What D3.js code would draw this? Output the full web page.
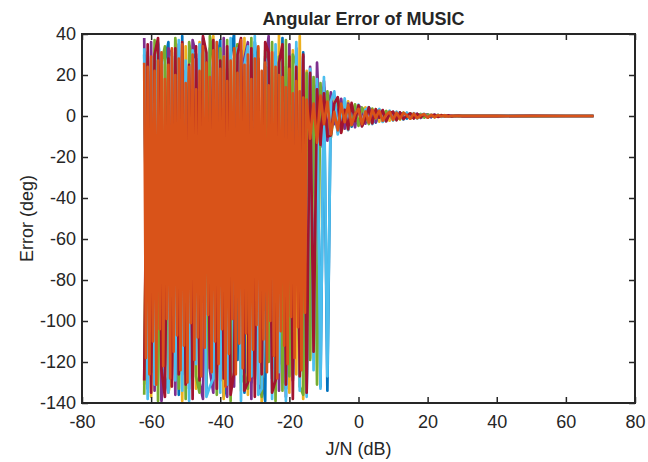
<!DOCTYPE html>
<html>
<head>
<meta charset="utf-8">
<script src="https://cdn.jsdelivr.net/npm/d3@7"></script>
<style>
  body { margin: 0; background: #fff; }
  text { font-family: "Liberation Sans", Arial, Helvetica, sans-serif; fill: #262626; }
</style>
</head>
<body>
<script>
// J/N sample grids (dB)
const jnFine = d3.range(-62, -14.9, 0.5).concat(d3.range(-14, 30.1, 1), [40, 50, 60, 68]);
const jnCoarse = d3.range(-62, 30.1, 1).concat([40, 50, 60, 68]);

const xTicks = [-80, -60, -40, -20, 0, 20, 40, 60, 80];
const yTicks = [-140, -120, -100, -80, -60, -40, -20, 0, 20, 40];

// angular error per trial (deg)
const errBlue = [
  30, -133, 22, -120, 35, -138, 27, 36, -129, 24,
  -136, 39, -125, -60, 31, 28, -118, 38, -134, 33,
  -122, 26, 37, -137, -131, 29, 40, -119, 32, -135,
  25, -130, 36, 15, -124, -139, 34, -128, 30, -121,
  38, -133, 27, -126, -40, -117, 31, -135, 20, -110,
  15, -132, 14, -134,
  10, 3, -8, 6.5, -2, 5.5, -5.2, 1.5, 4.6, -4.2,
  -1, 3.9, 2.5, -3.2, 1.2, 2.7, -2.4, 0.5, 2, -1.7,
  1.5, 0.4, -1.3, 1.1, -0.5, 1, -0.9, 0.2, 0.7, -0.6,
  0.5, -0.2, 0.35, -0.3, 0.1, -0.2, 0.15, -0.1, 0.05,
  0.03, -0.02, 0.01, 0
];
const errYellow = [
  -131, 28, -137, 33, 30, -123, 25, -135, -126, 37,
  21, -139, 34, -128, 29, -133, 36, 10, -120, 26,
  39, -125, 31, -138, 23, -129, -70, 35, -134, 38,
  -136, 27, -127, 33, -140, 29, 37, -124, -132, 40,
  -130, 24, -135, 32, -126, 39, -138, 22, -118, 18,
  -14, 13, -12, 11,
  -6, 9.5, 4, -7.8, -3, 7.2, -1.5, 5.3, -4.5, 2,
  4.2, -3.6, -1, 3.3, -2.8, 0.8, 2.5, -2.3, 1.9, -0.6,
  -1.7, 1.5, 0.3, -1.3, 1.1, -0.3, -0.9, 0.85, -0.4, 0.6,
  -0.5, 0.2, 0.4, -0.3, 0.26, -0.1, -0.16, 0.11, -0.05,
  -0.02, 0.01, -0.01, 0
];
const errPurple = [
  38, -128, 36, -134, 27, -139, -121, 33, 29, -136,
  35, -126, 22, -133, 37, 30, -130, -138, 26, -124,
  -135, 32, -129, 38, -137, 24, -132, 34, -20, 28,
  36, -138, 30, -131, -136, 25, 39, -123, 31, -134,
  27, -137, 35, -129, 33, -125, 29, -131, 24, -113,
  26, -15, 17, -12,
  11.5, -4, 2, 8.4, -6.2, 6.1, 1, -5.5, 4.9, 3.8,
  -3.7, 3.7, 0.5, -3, 2.8, 1.4, -2.1, 2.2, 0.9, -1.5,
  1.7, -0.4, 1.4, -1.1, 0.8, 1, -0.75, 0.3, 0.7, -0.5,
  0.6, 0.1, -0.35, 0.38, -0.2, 0.25, -0.1, 0.12, -0.05,
  0.02, -0.01, 0.01, 0
];
const errGreen = [
  -136, 31, -125, 37, -139, 26, 34, -130, -122, 38,
  -133, 29, -138, 36, 23, -127, -135, 32, -131, 39,
  27, -136, 33, -124, 37, -139, 28, 35, -130, -126,
  -133, 38, -128, 26, -137, 32, -120, 36, -139, 29,
  -134, 37, -127, 30, 25, -132, -136, 21, -119, 19,
  -131, 16, -14, 12,
  -10.5, 2, 8.8, -3.5, 7.4, -6.8, -1, 5.7, -4.8, 4.1,
  0.5, -3.9, 3.6, -1.2, 3.1, -2.6, 2.4, 0.6, -2, 1.9,
  -1.5, 1.6, -0.3, 1.3, -1.1, 0.4, 1, -0.8, 0.65, 0.2,
  -0.5, 0.5, -0.3, 0.35, 0.1, -0.25, 0.2, -0.1, 0.06,
  0.01, -0.02, 0.01, 0
];
const errCyan = [
  33, -138, 28, -131, 36, 24, -127, -135, 31, -129,
  37, -134, 27, -139, 32, -121, 35, 30, -137, -132,
  -128, 36, -135, 29, -131, 38, -126, 33, -139, 25,
  34, -127, 39, -136, -133, 28, 24, -138, 35, -125,
  31, -139, 26, -128, 36, -134, 28, -137, 23, -124,
  18, -133, 19, -127,
  7, 12, -9, -2, 8.6, -6.9, 4.5, -1.8, 5.6, -4.9,
  3, 4.3, -4, 1.5, 3.4, -2.9, -0.7, 2.6, -2.2, 2.1,
  0.8, -1.8, 1.7, -0.6, 1.4, -1.2, 0.5, 1.05, -0.8, 0.6,
  -0.2, 0.55, -0.4, 0.2, 0.3, -0.22, 0.15, -0.12, 0.06,
  0.03, -0.01, 0.01, 0
];
const errRed = [
  -129, 35, -135, 30, 38, -124, -137, 28, -132, 33,
  -126, 36, -131, 25, -138, 34, -129, 39, 31, -123,
  37, -133, 27, -128, 34, -136, -125, 30, 38, -134,
  -130, 33, -137, 28, -126, 36, 31, -135, -129, 26,
  35, -131, 29, -138, 24, -127, 30, -135, 21, -115,
  13, -14, 11, -10,
  -9.5, 6, 9.2, -8.2, 3, -6.5, 6.4, -2.5, 5.2, -5.1,
  -1.4, 4.2, -3.6, 3.3, -0.8, 2.9, -2.6, 1.2, 2.1, -2.1,
  1.7, -1.5, 0.2, 1.3, -1.2, 0.95, -0.5, 0.8, -0.8, 0.3,
  0.6, -0.48, 0.4, -0.1, 0.3, -0.23, 0.1, 0.12, -0.06,
  -0.03, 0.02, -0.01, 0
];
// last trial, sampled on the fine grid
const errOrange = [
  26, -118, 24, -126, 29, -110, 22, -131, 27, -104,
  31, -122, 18, -99, 25, -128, 33, -115, 20, -107,
  28, -124, 35, -112, 16, -130, 24, -101, 30, -119,
  13, -108, 22, -127, 34, -113, 26, -97, 19, -125,
  32, -110, 36, -121, 23, -104, 29, -132, 17, -116,
  27, -99, 33, -126, 21, -111, 37, -123, 25, -106,
  30, -129, 18, -114, 28, -102, 34, -120, 22, -109,
  26, -125, 15, -100, 31, -117, 24, -128, 20, -105,
  19, -112, 14, -121, 23, -98, 11, -118, 17, -103,
  12, -124, 9, -96, 8,
  -11, 6, -13, 10, -4, 7, -9, 2, -7, 6,
  -3, 5.5, -4.5, 1, 3.5, -4, 2.2, -3.2, 3, -1,
  2.6, -2.3, 0.5, 2.1, -1.9, 1.6, -1.2, 1.5, 0.3, -1.3,
  1.2, -1.1, 0.4, 0.9, -0.8, 0.5, -0.6, 0.45, -0.2, 0.3,
  -0.25, 0.1, 0.12, -0.08, 0.03,
  0.02, -0.01, 0.01, 0
];

const series = [
  { x: jnCoarse, y: errBlue, color: "#0072BD" },
  { x: jnCoarse, y: errYellow, color: "#EDB120" },
  { x: jnCoarse, y: errPurple, color: "#7E2F8E" },
  { x: jnCoarse, y: errGreen, color: "#77AC30" },
  { x: jnCoarse, y: errCyan, color: "#4DBEEE" },
  { x: jnCoarse, y: errRed, color: "#A2142F" },
  { x: jnFine, y: errOrange, color: "#D95319" }
];

// SVG SETUP
const margin = { top: 34, right: 13, bottom: 59, left: 82 };
const width = 648 - margin.left - margin.right;
const height = 462 - margin.top - margin.bottom;

const svg = d3.select("body").append("svg")
    .attr("width", 648)
    .attr("height", 462);

const g = svg.append("g")
    .attr("transform", `translate(${margin.left},${margin.top})`);

// SCALES
const xScale = d3.scaleLinear().domain([-80, 80]).range([0, width]);
const yScale = d3.scaleLinear().domain([-140, 40]).range([height, 0]);

g.append("clipPath").attr("id", "plot-clip")
  .append("rect").attr("width", width).attr("height", height);

// LINES
const line = d3.line()
    .x(d => xScale(d[0]))
    .y(d => yScale(d[1]));

g.append("g").attr("clip-path", "url(#plot-clip)")
  .selectAll("path")
  .data(series)
  .enter().append("path")
    .attr("d", s => line(s.x.map((x, i) => [x, s.y[i]])))
    .attr("fill", "none")
    .attr("stroke", s => s.color)
    .attr("stroke-width", 2.7)
    .attr("stroke-linejoin", "round");

// AXES (MATLAB style: ticks inside, box on, plain hyphen minus)
const tickLen = 6;
const fmt = d => String(d);
const styleAxis = sel => {
  sel.select(".domain").remove();
  sel.selectAll(".tick line").attr("stroke", "#262626").attr("stroke-width", 1.5);
  sel.selectAll(".tick text").attr("font-family", null).attr("font-size", null)
    .style("font-size", "18px").attr("fill", "#262626");
};

g.append("g")
  .attr("transform", `translate(0,${height})`)
  .call(d3.axisBottom(xScale).tickValues(xTicks).tickFormat(fmt).tickSizeInner(-tickLen).tickSizeOuter(0).tickPadding(12))
  .call(styleAxis);

g.append("g")
  .call(d3.axisTop(xScale).tickValues(xTicks).tickSizeInner(-tickLen).tickSizeOuter(0).tickFormat(""))
  .call(styleAxis);

g.append("g")
  .call(d3.axisLeft(yScale).tickValues(yTicks).tickFormat(fmt).tickSizeInner(-tickLen).tickSizeOuter(0).tickPadding(6))
  .call(styleAxis);

g.append("g")
  .attr("transform", `translate(${width},0)`)
  .call(d3.axisRight(yScale).tickValues(yTicks).tickSizeInner(-tickLen).tickSizeOuter(0).tickFormat(""))
  .call(styleAxis);

// BOX
g.append("rect")
  .attr("width", width)
  .attr("height", height)
  .attr("fill", "none")
  .attr("stroke", "#262626")
  .attr("stroke-width", 2);

// LABELS
svg.append("text")
  .attr("x", margin.left + width / 2 + 5)
  .attr("y", 25)
  .attr("text-anchor", "middle")
  .style("font-size", "18px")
  .style("font-weight", "bold")
  .text("Angular Error of MUSIC");

svg.append("text")
  .attr("x", margin.left + width / 2)
  .attr("y", 455)
  .attr("text-anchor", "middle")
  .style("font-size", "18px")
  .text("J/N (dB)");

svg.append("text")
  .attr("transform", "rotate(-90)")
  .attr("x", -(margin.top + height / 2))
  .attr("y", 33)
  .attr("text-anchor", "middle")
  .style("font-size", "18px")
  .text("Error (deg)");
</script>
</body>
</html>
